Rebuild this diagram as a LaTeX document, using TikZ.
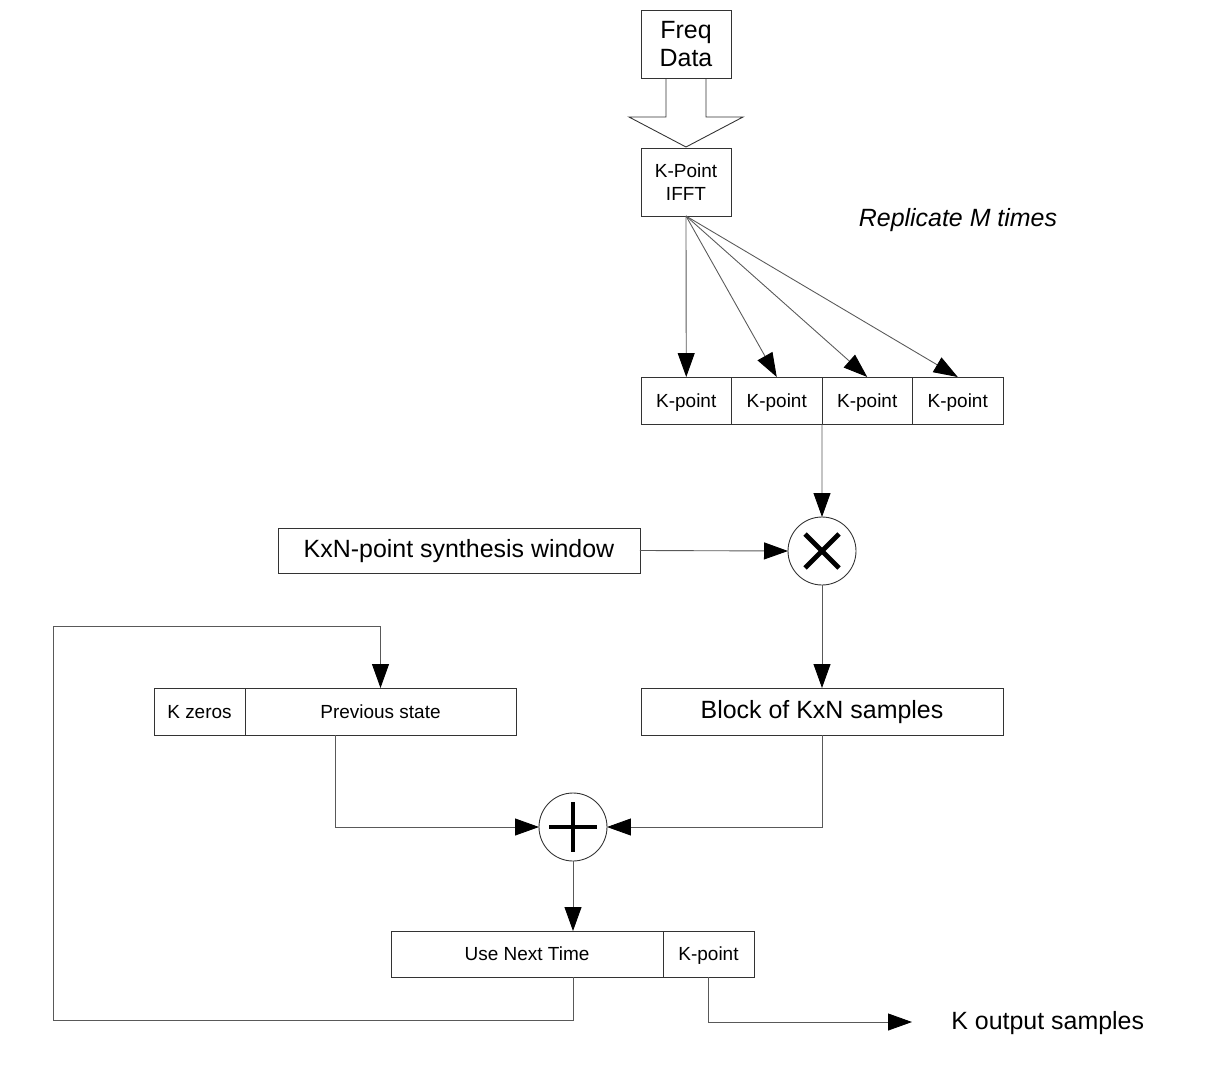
\documentclass[tikz,border=0pt]{standalone}
\usepackage{fontspec}
\setmainfont{Liberation Sans}
\usetikzlibrary{arrows.meta,calc}
\tikzset{
  box/.style={draw=black!80, line width=0.5pt, inner sep=0pt, outer sep=0pt, align=center, font=\fontsize{10.8}{13}\selectfont, text height=0.74em, text depth=0em},
  bigbox/.style={box, font=\fontsize{14.2}{17}\selectfont},
  op/.style={draw=black!80, line width=0.5pt, circle, minimum size=1.36cm, inner sep=0pt, outer sep=0pt},
  conn/.style={draw=black!65, line width=0.5pt},
  arr/.style={conn, -{Triangle[length=0.48cm, width=0.34cm, color=black]}},
  sym/.style={line width=2.8pt, black},
  lbl/.style={font=\fontsize{14.2}{17}\selectfont, inner sep=0pt}
}
\begin{document}
\begin{tikzpicture}[x=0.02cm, y=-0.02cm]
\useasboundingbox (0,0) rectangle (1224,1082);
% boxes
\node[bigbox, minimum width=1.8cm, minimum height=1.36cm, text height=, text depth=] (freq) at (686,44) {Freq\\[-1pt]Data};
\node[box, minimum width=1.8cm, minimum height=1.36cm, text height=, text depth=] (ifft) at (686,182) {K-Point\\IFFT};
\node[lbl, font=\fontsize{14.2}{17}\selectfont\itshape] (rep) at (958,220) {Replicate M times};
\node[box, minimum width=1.81cm, minimum height=0.94cm] (k1) at (686.25,400.5) {K-point};
\node[box, minimum width=1.81cm, minimum height=0.94cm] (k2) at (776.75,400.5) {K-point};
\node[box, minimum width=1.81cm, minimum height=0.94cm] (k3) at (867.25,400.5) {K-point};
\node[box, minimum width=1.81cm, minimum height=0.94cm] (k4) at (957.75,400.5) {K-point};
\node[op] (mult) at (822,551) {};
\node[bigbox, minimum width=7.24cm, minimum height=0.9cm] (win) at (459,550.5) {KxN-point synthesis window};
\node[bigbox, minimum width=7.24cm, minimum height=0.94cm] (block) at (822,711.5) {Block of KxN samples};
\node[box, minimum width=1.82cm, minimum height=0.94cm] (kz) at (199.5,711.5) {K zeros};
\node[box, minimum width=5.42cm, minimum height=0.94cm] (prev) at (380.5,711.5) {Previous state};
\node[op] (plus) at (573,827) {};
\node[box, minimum width=5.44cm, minimum height=0.92cm] (unt) at (527,954) {Use Next Time};
\node[box, minimum width=1.82cm, minimum height=0.92cm] (kp) at (708.5,954) {K-point};
\node[lbl, anchor=west] (out) at (951,1023) {K output samples};
% symbols
\draw[sym] ($(mult)+(-17,-17)$) -- ($(mult)+(17,17)$);
\draw[sym] ($(mult)+(-17,17)$) -- ($(mult)+(17,-17)$);
\draw[sym] ($(plus)+(-24,0)$) -- ($(plus)+(24,0)$);
\draw[sym] ($(plus)+(0,-25)$) -- ($(plus)+(0,25)$);
% hollow arrow
\draw[conn, draw=black!80] (666,78) -- (666,117) -- (629,117) -- (686,147) -- (743,117) -- (706,117) -- (706,78);
% connectors
\draw[arr] (ifft.south) -- (k1.north);
\draw[arr] (ifft.south) -- (k2.north);
\draw[arr] (ifft.south) -- (k3.north);
\draw[arr] (ifft.south) -- (k4.north);
\draw[arr] (k2.south east) -- (mult.north);
\draw[arr] (win.east) -- (mult.west);
\draw[arr] (mult.south) -- (block.north);
\coordinate (ps) at (335,735);
\draw[arr] (ps) |- (plus.west);
\draw[arr] (block.south) |- (plus.east);
\draw[arr] (plus.south) -- (plus |- unt.north);
\coordinate (lb) at (53,1020);
\coordinate (lt) at (53,626);
\draw[arr] (plus |- unt.south) |- (lb) -- (lt) -| (prev.north);
\coordinate (otip) at (912,1022);
\draw[arr] (kp.south) |- (otip);
\end{tikzpicture}
\end{document}
